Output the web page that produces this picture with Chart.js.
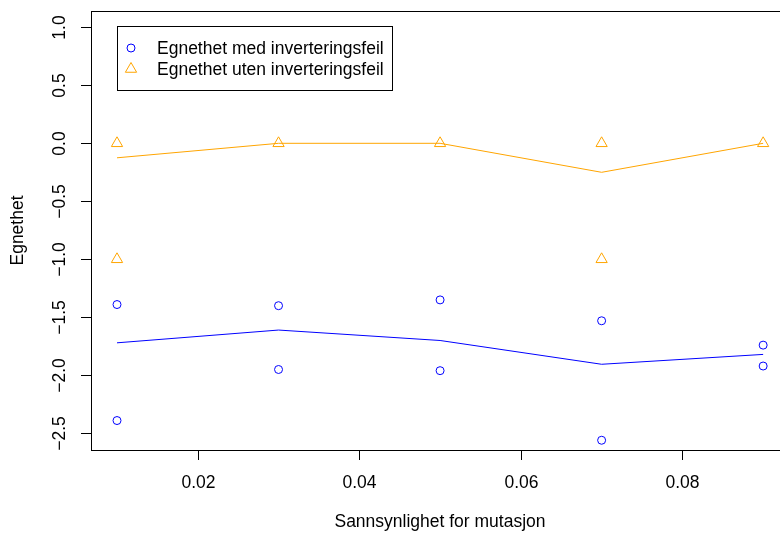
<!DOCTYPE html>
<html>
<head>
<meta charset="utf-8">
<script src="https://cdn.jsdelivr.net/npm/chart.js@4/dist/chart.umd.min.js"></script>
<style>
  html, body { margin: 0; padding: 0; background: #fff; overflow: hidden; }
  #wrap { width: 800px; height: 533px; }
</style>
</head>
<body>
<div id="wrap"><canvas id="chart" width="800" height="533"></canvas></div>
<script>
// ── data ──────────────────────────────────────────────────
const MUT_RATE      = [0.01, 0.03, 0.05, 0.07, 0.09];
const WITH_ERR_HIGH = [-1.39, -1.40, -1.35, -1.53, -1.74];
const WITH_ERR_LOW  = [-2.39, -1.95, -1.96, -2.56, -1.92];
const WITH_ERR_MEAN = [-1.72, -1.61, -1.70, -1.905, -1.82];
const NO_ERR_HIGH   = [0, 0, 0, 0, 0];
const NO_ERR_LOW    = [-1, null, null, -1, null];
const NO_ERR_MEAN   = [-0.125, 0, 0, -0.25, 0];

const X_TICKS = [0.02, 0.04, 0.06, 0.08];
const X_TICK_LABELS = ['0.02', '0.04', '0.06', '0.08'];
const Y_TICKS = [1.0, 0.5, 0.0, -0.5, -1.0, -1.5, -2.0, -2.5];
const Y_TICK_LABELS = ['1.0', '0.5', '0.0', '\u22120.5', '\u22121.0', '\u22121.5', '\u22122.0', '\u22122.5'];

const LEGEND_LABELS = ['Egnethet med inverteringsfeil', 'Egnethet uten inverteringsfeil'];
const X_TITLE = 'Sannsynlighet for mutasjon';
const Y_TITLE = 'Egnethet';

const BLUE   = '#0000ff';
const ORANGE = '#ffa500';
const FONT   = '17.5px "Liberation Sans", Arial, Helvetica, sans-serif';

// helpers
const pts = ys => MUT_RATE.map((x, i) => ({ x, y: ys[i] })).filter(p => p.y !== null);

// ── R-style box, axes, titles and legend ──────────────────
const rAxes = {
  id: 'rAxes',
  afterDraw(chart) {
    const { ctx, chartArea: a } = chart;
    const sx = chart.scales.x, sy = chart.scales.y;
    ctx.save();
    ctx.strokeStyle = '#000';
    ctx.lineWidth = 1;
    ctx.fillStyle = '#000';
    ctx.font = FONT;

    // box
    ctx.strokeRect(a.left + 0.5, a.top + 0.5, a.right - a.left, a.bottom - a.top);

    // x ticks
    ctx.textAlign = 'center';
    ctx.textBaseline = 'middle';
    X_TICKS.forEach((v, i) => {
      const px = Math.round(sx.getPixelForValue(v)) + 0.5;
      ctx.beginPath();
      ctx.moveTo(px, a.bottom);
      ctx.lineTo(px, a.bottom + 10);
      ctx.stroke();
      ctx.fillText(X_TICK_LABELS[i], px, a.bottom + 33);
    });

    // y ticks (labels rotated, as in R)
    Y_TICKS.forEach((v, i) => {
      const py = Math.round(sy.getPixelForValue(v)) + 0.5;
      ctx.beginPath();
      ctx.moveTo(a.left - 10, py);
      ctx.lineTo(a.left, py);
      ctx.stroke();
      ctx.save();
      ctx.translate(a.left - 31, py);
      ctx.rotate(-Math.PI / 2);
      ctx.fillText(Y_TICK_LABELS[i], 0, 0);
      ctx.restore();
    });

    // titles
    ctx.fillText(X_TITLE, (a.left + a.right) / 2, 522);
    ctx.save();
    ctx.translate(18, (a.top + a.bottom) / 2);
    ctx.rotate(-Math.PI / 2);
    ctx.fillText(Y_TITLE, 0, 0);
    ctx.restore();

    // legend
    ctx.fillStyle = '#fff';
    ctx.fillRect(117.5, 26.5, 275, 64);
    ctx.strokeRect(117.5, 26.5, 275, 64);
    const rows = [48, 69];
    ctx.fillStyle = '#000';
    ctx.textAlign = 'left';
    LEGEND_LABELS.forEach((t, i) => ctx.fillText(t, 157, rows[i] + 1));
    // legend symbols
    ctx.lineWidth = 1;
    ctx.strokeStyle = BLUE;
    ctx.beginPath();
    ctx.arc(131, rows[0], 4, 0, Math.PI * 2);
    ctx.stroke();
    ctx.strokeStyle = ORANGE;
    const r = 6.5;
    ctx.beginPath();
    for (let k = 0; k < 3; k++) {
      const ang = k * 2 * Math.PI / 3;
      const fx = 131 + Math.sin(ang) * r, fy = rows[1] - Math.cos(ang) * r;
      k ? ctx.lineTo(fx, fy) : ctx.moveTo(fx, fy);
    }
    ctx.closePath();
    ctx.stroke();
    ctx.restore();
  }
};

const circleSet = (data) => ({
  type: 'scatter', data, showLine: false,
  pointStyle: 'circle', pointRadius: 4, pointBorderWidth: 1,
  pointBorderColor: BLUE, pointBackgroundColor: 'rgba(0,0,0,0)'
});
const triSet = (data) => ({
  type: 'scatter', data, showLine: false,
  pointStyle: 'triangle', pointRadius: 6.5, pointBorderWidth: 1,
  pointBorderColor: ORANGE, pointBackgroundColor: 'rgba(0,0,0,0)'
});
const lineSet = (data, color) => ({
  type: 'line', data, borderColor: color, borderWidth: 1,
  pointRadius: 0, tension: 0, fill: false
});

new Chart(document.getElementById('chart'), {
  type: 'scatter',
  data: {
    datasets: [
      circleSet(pts(WITH_ERR_HIGH)),
      circleSet(pts(WITH_ERR_LOW)),
      triSet(pts(NO_ERR_HIGH)),
      triSet(pts(NO_ERR_LOW)),
      lineSet(pts(WITH_ERR_MEAN), BLUE),
      lineSet(pts(NO_ERR_MEAN), ORANGE)
    ]
  },
  options: {
    responsive: false,
    animation: false,
    devicePixelRatio: 1,
    layout: { padding: { left: 91, right: 11, top: 11, bottom: 83 } },
    plugins: { legend: { display: false }, tooltip: { enabled: false } },
    scales: {
      x: { type: 'linear', min: 0.00678, max: 0.0932, display: false },
      y: { type: 'linear', min: -2.644, max: 1.1405, display: false }
    }
  },
  plugins: [rAxes]
});
</script>
</body>
</html>
